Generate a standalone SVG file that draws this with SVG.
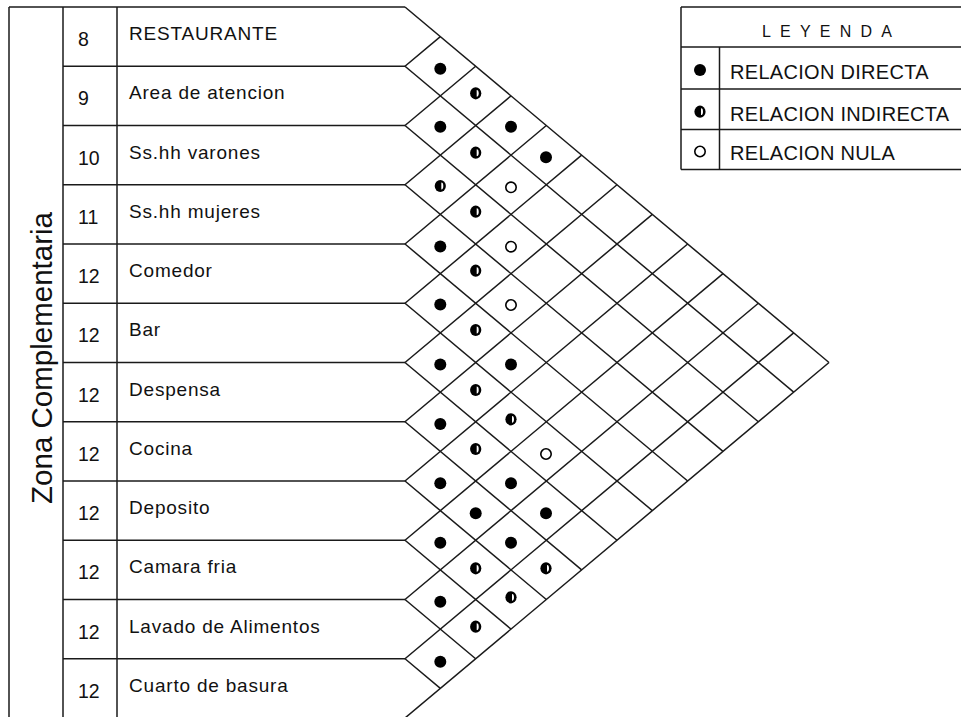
<svg xmlns="http://www.w3.org/2000/svg" xmlns:xlink="http://www.w3.org/1999/xlink" width="961" height="717" viewBox="0 0 961 717">
<style>
.ln{stroke:#1a1a1a;stroke-width:1.5;fill:none}
.t{font-family:"Liberation Sans",Arial,sans-serif;fill:#111}
.lab{font-size:19px;letter-spacing:0.8px}
.num{font-size:19.5px}
.leg{font-size:20px;letter-spacing:0.3px}
</style>
<defs>
<g id="full"><circle r="6" fill="#000"/></g>
<g id="half"><ellipse rx="5.6" ry="6.1" fill="#000"/><path d="M1,-3.4 A2,3.4 0 0 1 1,3.4 Z" fill="#fff"/></g>
<g id="null"><circle r="5.2" fill="#fff" stroke="#000" stroke-width="1.6"/></g>
</defs>
<rect width="961" height="717" fill="#fff"/>

<g id="zona">
<line class="ln" x1="9" y1="7" x2="9" y2="717"/>
<line class="ln" x1="63" y1="7" x2="63" y2="717"/>
<line class="ln" x1="117" y1="7" x2="117" y2="717"/>
<line class="ln" x1="9" y1="7" x2="405" y2="7"/>
<text class="t" font-size="29.5" transform="translate(52,358) rotate(-90)" text-anchor="middle">Zona Complementaria</text>
</g>

<g id="row1"><text class="t num" x="78" y="46">8</text><text class="t lab" x="129" y="40">RESTAURANTE</text></g>
<g id="row2"><line class="ln" x1="63" y1="66.25" x2="405" y2="66.25"/><text class="t num" x="78" y="105.25">9</text><text class="t lab" x="129" y="99.25">Area de atencion</text></g>
<g id="row3"><line class="ln" x1="63" y1="125.5" x2="405" y2="125.5"/><text class="t num" x="78" y="164.5">10</text><text class="t lab" x="129" y="158.5">Ss.hh varones</text></g>
<g id="row4"><line class="ln" x1="63" y1="184.75" x2="405" y2="184.75"/><text class="t num" x="78" y="223.75">11</text><text class="t lab" x="129" y="217.75">Ss.hh mujeres</text></g>
<g id="row5"><line class="ln" x1="63" y1="244" x2="405" y2="244"/><text class="t num" x="78" y="283">12</text><text class="t lab" x="129" y="277">Comedor</text></g>
<g id="row6"><line class="ln" x1="63" y1="303.25" x2="405" y2="303.25"/><text class="t num" x="78" y="342.25">12</text><text class="t lab" x="129" y="336.25">Bar</text></g>
<g id="row7"><line class="ln" x1="63" y1="362.5" x2="405" y2="362.5"/><text class="t num" x="78" y="401.5">12</text><text class="t lab" x="129" y="395.5">Despensa</text></g>
<g id="row8"><line class="ln" x1="63" y1="421.75" x2="405" y2="421.75"/><text class="t num" x="78" y="460.75">12</text><text class="t lab" x="129" y="454.75">Cocina</text></g>
<g id="row9"><line class="ln" x1="63" y1="481" x2="405" y2="481"/><text class="t num" x="78" y="520">12</text><text class="t lab" x="129" y="514">Deposito</text></g>
<g id="row10"><line class="ln" x1="63" y1="540.25" x2="405" y2="540.25"/><text class="t num" x="78" y="579.25">12</text><text class="t lab" x="129" y="573.25">Camara fria</text></g>
<g id="row11"><line class="ln" x1="63" y1="599.5" x2="405" y2="599.5"/><text class="t num" x="78" y="638.5">12</text><text class="t lab" x="129" y="632.5">Lavado de Alimentos</text></g>
<g id="row12"><line class="ln" x1="63" y1="658.75" x2="405" y2="658.75"/><text class="t num" x="78" y="697.75">12</text><text class="t lab" x="129" y="691.75">Cuarto de basura</text></g>

<g id="connectors">
<line class="ln" x1="405" y1="7" x2="829" y2="362.5"/>
<line class="ln" x1="405" y1="66.25" x2="793.67" y2="392.12"/>
<line class="ln" x1="405" y1="125.5" x2="758.33" y2="421.75"/>
<line class="ln" x1="405" y1="184.75" x2="723" y2="451.38"/>
<line class="ln" x1="405" y1="244" x2="687.67" y2="481"/>
<line class="ln" x1="405" y1="303.25" x2="652.33" y2="510.62"/>
<line class="ln" x1="405" y1="362.5" x2="617" y2="540.25"/>
<line class="ln" x1="405" y1="421.75" x2="581.67" y2="569.88"/>
<line class="ln" x1="405" y1="481" x2="546.33" y2="599.5"/>
<line class="ln" x1="405" y1="540.25" x2="511" y2="629.12"/>
<line class="ln" x1="405" y1="599.5" x2="475.67" y2="658.75"/>
<line class="ln" x1="405" y1="658.75" x2="440.33" y2="688.38"/>
<line class="ln" x1="405" y1="66.25" x2="440.33" y2="36.62"/>
<line class="ln" x1="405" y1="125.5" x2="475.67" y2="66.25"/>
<line class="ln" x1="405" y1="184.75" x2="511" y2="95.88"/>
<line class="ln" x1="405" y1="244" x2="546.33" y2="125.5"/>
<line class="ln" x1="405" y1="303.25" x2="581.67" y2="155.12"/>
<line class="ln" x1="405" y1="362.5" x2="617" y2="184.75"/>
<line class="ln" x1="405" y1="421.75" x2="652.33" y2="214.38"/>
<line class="ln" x1="405" y1="481" x2="687.67" y2="244"/>
<line class="ln" x1="405" y1="540.25" x2="723" y2="273.62"/>
<line class="ln" x1="405" y1="599.5" x2="758.33" y2="303.25"/>
<line class="ln" x1="405" y1="658.75" x2="793.67" y2="332.88"/>
<line class="ln" x1="405" y1="718" x2="829" y2="362.5"/>
</g>

<g id="relaciones">
<use xlink:href="#full" x="440.3" y="68.8"/>
<use xlink:href="#full" x="440.3" y="126.7"/>
<use xlink:href="#half" x="440.3" y="186"/>
<use xlink:href="#full" x="440.3" y="246.5"/>
<use xlink:href="#full" x="440.3" y="304.5"/>
<use xlink:href="#full" x="440.3" y="364.5"/>
<use xlink:href="#full" x="440.3" y="424"/>
<use xlink:href="#full" x="440.3" y="483.3"/>
<use xlink:href="#full" x="440.3" y="542.7"/>
<use xlink:href="#full" x="440.3" y="601.7"/>
<use xlink:href="#full" x="440.3" y="661.7"/>
<use xlink:href="#half" x="475.7" y="93.3"/>
<use xlink:href="#half" x="475.7" y="152.7"/>
<use xlink:href="#half" x="475.7" y="211.7"/>
<use xlink:href="#half" x="475.7" y="270.7"/>
<use xlink:href="#half" x="475.7" y="330"/>
<use xlink:href="#half" x="475.7" y="390"/>
<use xlink:href="#half" x="475.7" y="449"/>
<use xlink:href="#full" x="475.7" y="513.3"/>
<use xlink:href="#half" x="475.7" y="568.3"/>
<use xlink:href="#half" x="475.7" y="626.7"/>
<use xlink:href="#full" x="511" y="126.7"/>
<use xlink:href="#null" x="511" y="187.3"/>
<use xlink:href="#null" x="511" y="246.7"/>
<use xlink:href="#null" x="511" y="305"/>
<use xlink:href="#full" x="511" y="364.5"/>
<use xlink:href="#half" x="511" y="419.3"/>
<use xlink:href="#full" x="511" y="483.3"/>
<use xlink:href="#full" x="511" y="542.7"/>
<use xlink:href="#half" x="511" y="597.3"/>
<use xlink:href="#full" x="546" y="157.3"/>
<use xlink:href="#null" x="546" y="454"/>
<use xlink:href="#full" x="546" y="513.3"/>
<use xlink:href="#half" x="546" y="568.3"/>
</g>

<g id="leyenda">
<line class="ln" x1="681" y1="7" x2="961" y2="7"/>
<line class="ln" x1="681" y1="47" x2="961" y2="47"/>
<line class="ln" x1="681" y1="89" x2="961" y2="89"/>
<line class="ln" x1="681" y1="129.5" x2="961" y2="129.5"/>
<line class="ln" x1="681" y1="169.5" x2="961" y2="169.5"/>
<line class="ln" x1="681" y1="7" x2="681" y2="169.5"/>
<line class="ln" x1="719.5" y1="47" x2="719.5" y2="169.5"/>
<text class="t" font-size="16" letter-spacing="9.2" x="762" y="37">LEYENDA</text>
<use xlink:href="#full" x="700" y="70"/>
<use xlink:href="#half" x="700" y="111.7"/>
<use xlink:href="#null" x="700" y="151.5"/>
<text class="t leg" x="730" y="79">RELACION DIRECTA</text>
<text class="t leg" x="730" y="120.5">RELACION INDIRECTA</text>
<text class="t leg" x="730" y="160">RELACION NULA</text>
</g>
</svg>
